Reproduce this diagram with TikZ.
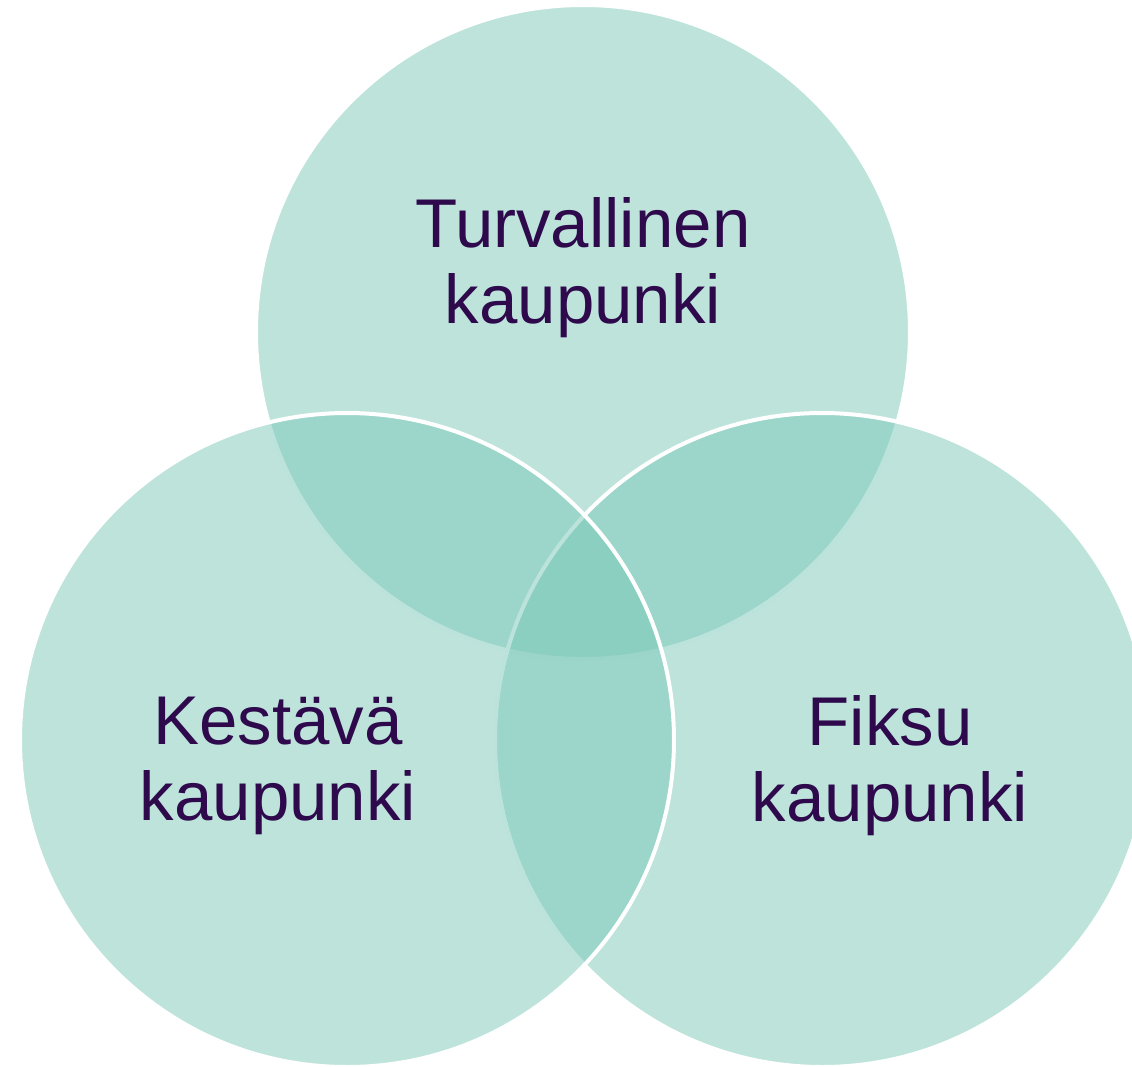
\documentclass[tikz,border=0pt]{standalone}
\usepackage{fontspec}
\setmainfont{Liberation Sans}
\definecolor{venn}{RGB}{123,200,184}
\definecolor{labeltext}{RGB}{46,10,77}
\tikzset{
  venncircle/.style={circle, minimum size=327pt, inner sep=0pt, outer sep=0pt,
    fill=venn, fill opacity=0.5, draw=white, draw opacity=1, line width=2pt},
  vennlabel/.style={align=center, text=labeltext, inner sep=0pt,
    font=\fontsize{34.5}{38}\selectfont}
}
\begin{document}
\begin{tikzpicture}[x=0.5pt,y=-0.5pt]
  \useasboundingbox (0,0) rectangle (1132,1067);
  \node[venncircle] (top) at (583,332) {};
  \node[venncircle] (right) at (822,740) {};
  \node[venncircle] (left) at (347,740) {};
  \node[vennlabel] (toplabel) at (583,268) {Turvallinen\\kaupunki};
  \node[vennlabel] (leftlabel) at (278,766) {Kestävä\\kaupunki};
  \node[vennlabel] (rightlabel) at (890,766) {Fiksu\\kaupunki};
\end{tikzpicture}
\end{document}
